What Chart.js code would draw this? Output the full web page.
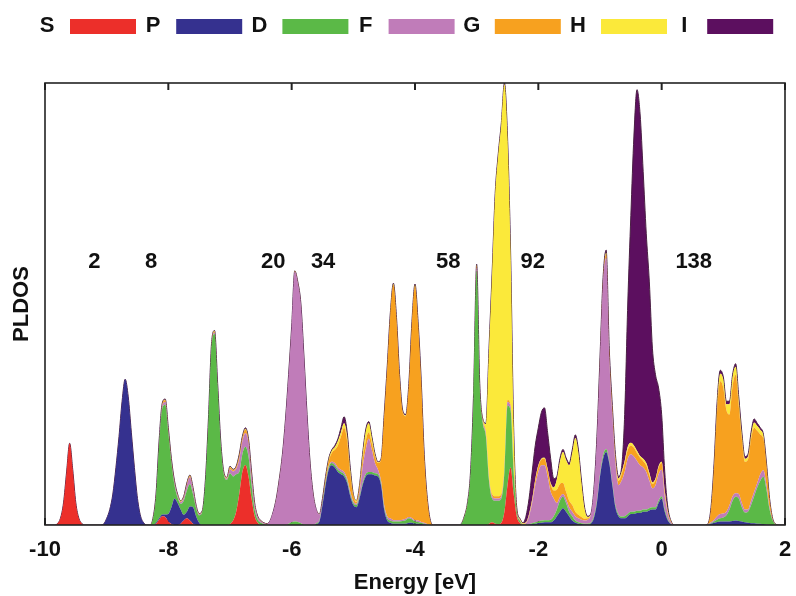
<!DOCTYPE html>
<html>
<head>
<meta charset="utf-8">
<script src="https://cdn.jsdelivr.net/npm/chart.js@4.4.1/dist/chart.umd.min.js"></script>
<style>
  html, body { margin: 0; padding: 0; background: #fff; }
  #wrap { width: 796px; height: 596px; }
</style>
</head>
<body>
<div id="wrap"><canvas id="dos" width="796" height="596"></canvas></div>
<script>
'use strict';

// Energy grid (eV), dense where the spectrum is non-zero
const energy = [
  -10, -9.85, -9.8, -9.75, -9.7, -9.65, -9.6, -9.55, -9.5, -9.45, -9.4, -9.35,
  -9.1, -9.05, -9, -8.95, -8.9, -8.85, -8.8, -8.75, -8.7, -8.65, -8.6, -8.55, -8.5, -8.45, -8.4, -8.35,
  -8.3, -8.25, -8.2, -8.15, -8.1, -8.05, -8, -7.95, -7.9, -7.85, -7.8, -7.75, -7.7, -7.65, -7.6, -7.55, -7.5, -7.45, -7.4, -7.35,
  -7.3, -7.25, -7.2, -7.15, -7.1, -7.05, -7, -6.95, -6.9, -6.85, -6.8, -6.75, -6.7, -6.65, -6.6, -6.55, -6.5, -6.45, -6.4,
  -6.35, -6.3, -6.25, -6.2, -6.15, -6.1, -6.05, -6, -5.95, -5.9, -5.85, -5.8, -5.75, -5.7, -5.65, -5.6,
  -5.55, -5.5, -5.45, -5.4, -5.35, -5.3, -5.25, -5.2, -5.15, -5.1, -5.05, -5, -4.95, -4.9, -4.85, -4.8, -4.75, -4.7, -4.65, -4.6, -4.55, -4.5,
  -4.45, -4.4, -4.35, -4.3, -4.25, -4.2, -4.15, -4.1, -4.05, -4, -3.95, -3.9, -3.85, -3.8, -3.75, -3.7,
  -3.3, -3.25, -3.2, -3.15, -3.1, -3.05, -3, -2.95, -2.9, -2.85, -2.8, -2.75, -2.7, -2.65, -2.6, -2.55, -2.5, -2.45, -2.4, -2.35, -2.3, -2.25,
  -2.2, -2.15, -2.1, -2.05, -2, -1.95, -1.9, -1.85, -1.8, -1.75, -1.7, -1.65, -1.6, -1.55, -1.5, -1.45, -1.4, -1.35, -1.3, -1.25,
  -1.2, -1.15, -1.1, -1.05, -1, -0.95, -0.9, -0.85, -0.8, -0.75, -0.7, -0.65, -0.6, -0.55, -0.5, -0.45, -0.4, -0.35, -0.3, -0.25,
  -0.2, -0.15, -0.1, -0.05, 0, 0.05, 0.1, 0.15, 0.2,
  0.7, 0.75, 0.8, 0.85, 0.9, 0.95, 1, 1.05, 1.1, 1.15, 1.2, 1.25, 1.3, 1.35, 1.4, 1.45, 1.5, 1.55, 1.6, 1.65, 1.7, 1.75, 1.8, 1.85, 1.9,
  2
];

// Partial DOS per angular momentum, same grid as energy (stacked S at bottom ... I on top)
const pldosS = [
  0, 0, 0.3, 1.5, 5, 12, 18.5, 12.5, 5, 1.5, 0.3, 0,
  0, 0, 0, 0, 0, 0, 0, 0, 0, 0, 0, 0, 0, 0, 0, 0,
  0, 0, 0.3, 1.2, 2, 1.8, 0.8, 0.2, 0, 0, 0.3, 1, 1.5, 1, 0.3, 0, 0, 0, 0, 0,
  0, 0, 0, 0, 0, 0, 0.2, 1, 3, 7, 12, 13.6, 11, 6, 2, 0.5, 0, 0, 0,
  0, 0, 0, 0, 0, 0, 0, 0, 0, 0, 0, 0, 0, 0, 0, 0,
  0, 0, 0, 0, 0, 0, 0, 0, 0, 0, 0, 0, 0, 0, 0, 0, 0, 0, 0, 0, 0, 0,
  0, 0, 0, 0, 0, 0, 0, 0, 0, 0, 0, 0, 0, 0, 0, 0,
  0, 0, 0, 0, 0, 0, 0, 0, 0, 0, 0.3, 0.6, 0.3, 0.2, 0.5, 3, 9, 13, 7, 2, 0.5, 0,
  0, 0, 0, 0, 0, 0, 0, 0, 0, 0, 0, 0, 0, 0, 0, 0, 0, 0, 0, 0,
  0, 0, 0, 0, 0, 0, 0, 0, 0, 0, 0, 0, 0, 0, 0, 0, 0, 0, 0, 0,
  0, 0, 0, 0, 0, 0, 0, 0, 0,
  0, 0, 0, 0, 0, 0, 0, 0, 0, 0, 0, 0, 0, 0, 0, 0, 0, 0, 0, 0, 0, 0, 0, 0, 0,
  0
];
const pldosP = [
  0, 0, 0, 0, 0, 0, 0, 0, 0, 0, 0, 0,
  0, 0.2, 1.5, 3.5, 7, 13, 20, 28, 33, 29, 21, 13, 6, 2, 0.5, 0,
  0, 0, 0.2, 0.3, 0.4, 0.6, 1.7, 3.8, 6, 5, 3.2, 1.3, 1.5, 3.2, 3.7, 2, 0.5, 0, 0, 0,
  0, 0, 0, 0, 0, 0, 0, 0, 0, 0, 0, 0, 0, 0, 0, 0, 0, 0, 0,
  0, 0, 0, 0, 0, 0, 0, 0, 0, 0, 0, 0, 0, 0, 0, 0.2,
  0.8, 4.5, 9, 12.5, 13.5, 13, 12, 11.5, 11, 9.5, 6.5, 4.5, 4, 6, 9, 11, 11.5, 11.5, 11.2, 11, 9, 3.5,
  1, 0.5, 0.3, 0.3, 0.3, 0.3, 0.3, 0.5, 0.5, 0.3, 0.3, 0.2, 0.1, 0, 0, 0,
  0, 0, 0, 0, 0, 0, 0, 0, 0, 0, 0, 0, 0, 0, 0, 0, 0, 0, 0, 0, 0, 0,
  0, 0.1, 0.2, 0.3, 0.4, 0.5, 0.6, 0.6, 0.6, 1, 2, 3, 3.8, 3, 2, 1, 0.5, 0.3, 0.2, 0.1,
  0.1, 0.3, 1.5, 5, 11, 15, 16.5, 14, 9, 4, 2, 1.5, 1.5, 2, 2.5, 2.5, 2.7, 2.7, 3, 3,
  3.3, 3.5, 3.5, 5, 6, 3, 1, 0.2, 0,
  0, 0.1, 0.3, 0.5, 0.7, 0.8, 0.8, 0.8, 0.8, 0.9, 1, 0.9, 0.8, 0.6, 0.5, 0.4, 0.4, 0.3, 0.3, 0.2, 0.1, 0, 0, 0, 0,
  0
];
const pldosD = [
  0, 0, 0, 0, 0, 0, 0, 0, 0, 0, 0, 0,
  0, 0, 0, 0, 0, 0, 0, 0, 0, 0, 0, 0, 0, 0, 0, 0,
  0, 1.3, 6, 16.7, 23.9, 24.8, 18.3, 10, 3, 1.2, 1.3, 3.2, 4.8, 5.1, 3, 1.8, 1.7, 3, 9.7, 23.5,
  40.3, 43.2, 31.3, 18.4, 11.4, 10.2, 11.5, 10, 8.5, 5, 4, 4.1, 4.5, 3, 1.5, 0.7, 0.5, 0.2, 0.05,
  0, 0, 0, 0, 0, 0, 0.3, 0.6, 0.8, 0.7, 0.4, 0.1, 0, 0, 0, 0.2,
  0.3, 0.5, 0.5, 0.5, 0.5, 0.5, 0.5, 0.5, 0.5, 0.5, 0.5, 0.5, 0.5, 0.5, 0.5, 0.5, 0.5, 0.5, 0.5, 0.5, 0.5, 0.5,
  0.5, 0.5, 0.5, 0.5, 0.5, 0.6, 0.8, 1, 0.8, 0.5, 0.4, 0.3, 0.2, 0.1, 0, 0,
  0, 0.25, 1.8, 4.7, 11.5, 29, 57.5, 31, 23, 20, 9.7, 5.4, 5.2, 5.3, 5.5, 9, 18, 13, 5, 1, 0.5, 0.1,
  0.1, 0.1, 0.2, 0.3, 0.4, 0.5, 0.5, 0.5, 0.6, 1, 1.5, 2.5, 2.6, 2, 1, 1, 0.5, 0.3, 0.2, 0.2,
  0.2, 0.2, 0.5, 0.5, 0.5, 0.8, 0.7, 0.5, 0.5, 0.5, 0.4, 0.4, 0.5, 0.5, 0.5, 0.5, 0.5, 0.5, 0.5, 0.5,
  0.5, 0.5, 0.5, 0.5, 0.5, 0.5, 0.3, 0.1, 0,
  0, 0.05, 0.1, 0.3, 0.5, 0.7, 0.9, 1.4, 2.7, 4.6, 5.4, 5.1, 3.2, 2.2, 2.5, 4.1, 6.1, 8.2, 9.7, 10.7, 7.9, 3.5, 1, 0.1, 0,
  0
];
const pldosF = [
  0, 0, 0, 0, 0, 0, 0, 0, 0, 0, 0, 0,
  0, 0, 0, 0, 0, 0, 0, 0, 0, 0, 0, 0, 0, 0, 0, 0,
  0, 0.1, 0.2, 0.4, 0.6, 0.6, 0.6, 0.5, 0.6, 0.5, 0.4, 0.6, 1.2, 1.5, 1.1, 0.5, 0.25, 0.1, 0.1, 0.2,
  0.3, 0.3, 0.3, 0.3, 0.3, 0.3, 0.9, 1.1, 1.2, 2.9, 2.9, 3.1, 3, 2, 1, 0.6, 0.35, 0.22, 0.2,
  1, 3, 5.8, 10.3, 15.8, 23.8, 33.5, 44.2, 56.5, 54.1, 49.4, 37.7, 24.8, 13.8, 6.8, 3.1,
  1.3, 0.5, 0.3, 0.3, 0.3, 0.5, 0.5, 0.5, 0.5, 0.5, 0.5, 0.3, 0.3, 1, 3.5, 5.5, 7.5, 5, 2.3, 1, 0.5, 0.5,
  0.5, 0.5, 0.3, 0.3, 0.3, 0.3, 0.3, 0.3, 0.3, 0.3, 0.3, 0.2, 0.2, 0.1, 0, 0,
  0, 0.02, 0.05, 0.1, 0.2, 0.5, 0.7, 0.5, 0.4, 0.5, 0.5, 0.5, 0.5, 0.5, 0.5, 0.5, 0.8, 0.8, 0.6, 0.3, 0.1, 0.1,
  0.3, 1.8, 4.6, 8.4, 11.2, 12.5, 12.4, 9.9, 6.3, 4, 1.5, 0.8, 0.6, 0.8, 1, 1, 1, 0.9, 0.8, 0.7,
  0.9, 1.8, 5.8, 14, 25.5, 39, 43.2, 23.5, 15.5, 9.5, 6.6, 8.1, 10, 12.5, 13, 12.5, 11.3, 10.3, 9.5, 8.5,
  6.2, 4.3, 5, 6, 6, 3, 1.2, 0.3, 0,
  0, 0.05, 0.2, 0.4, 0.8, 1, 0.9, 0.8, 1, 1, 0.8, 1, 1, 0.7, 0.5, 1, 1, 1, 1.5, 1.5, 1, 0.5, 0.2, 0.05, 0,
  0
];
const pldosG = [
  0, 0, 0, 0, 0, 0, 0, 0, 0, 0, 0, 0,
  0, 0, 0, 0, 0, 0, 0, 0, 0, 0, 0, 0, 0, 0, 0, 0,
  0, 0.05, 0.15, 0.2, 0.3, 0.4, 0.3, 0.3, 0.2, 0.15, 0.15, 0.2, 0.3, 0.3, 0.2, 0.1, 0.07, 0.05, 0.1, 0.15,
  0.2, 0.25, 0.2, 0.15, 0.15, 0.15, 0.4, 0.3, 0.4, 0.7, 0.7, 0.8, 0.6, 0.6, 0.3, 0.1, 0.07, 0.04, 0.03,
  0, 0, 0.1, 0.1, 0.1, 0.1, 0.1, 0.1, 0.1, 0.1, 0.1, 0.1, 0.1, 0.1, 0.1, 0,
  0.05, 0.3, 0.7, 1.1, 2, 3, 5, 7.5, 10, 8.5, 4, 1.3, 0.4, 1, 1.5, 2, 1.5, 1.5, 1.5, 1.5, 4.8, 20.1,
  33.6, 46.1, 53.2, 45.5, 32.5, 24.4, 23.2, 29.8, 44, 53, 44.6, 31.9, 15.1, 5.6, 0.9, 0,
  0, 0.02, 0.05, 0.1, 0.15, 0.3, 0.4, 0.3, 0.3, 0.5, 0.5, 0.5, 0.5, 0.5, 0.5, 0.5, 0.5, 0.5, 0.4, 0.3, 0.1, 0.1,
  0.1, 0.3, 0.5, 1, 1.3, 1.3, 1.5, 1.5, 1.7, 1.8, 3, 3, 2.5, 1.7, 1.5, 1.5, 1, 0.8, 0.6, 0.4,
  0.3, 0.1, 0.1, 0.2, 0.4, 0.5, 0.8, 1, 1, 1, 1, 1.5, 2, 2, 2, 2, 1.8, 1.7, 1.5, 1.5,
  1.3, 1, 1.2, 1.5, 1.5, 1, 0.5, 0.2, 0,
  0, 0.08, 3, 11.8, 24, 30, 28.4, 23, 20.5, 25, 26.8, 20, 14.5, 10.8, 11.3, 14, 14.5, 11.8, 9, 7.1, 4.5, 1.8, 0.25, 0.03, 0,
  0
];
const pldosH = [
  0, 0, 0, 0, 0, 0, 0, 0, 0, 0, 0, 0,
  0, 0, 0, 0, 0, 0, 0, 0, 0, 0, 0, 0, 0, 0, 0, 0,
  0, 0.03, 0.05, 0.1, 0.15, 0.15, 0.15, 0.1, 0.1, 0.1, 0.1, 0.1, 0.1, 0.1, 0.1, 0.05, 0.05, 0.03, 0.05, 0.1,
  0.1, 0.15, 0.1, 0.1, 0.1, 0.1, 0.2, 0.1, 0.1, 0.2, 0.2, 0.2, 0.2, 0.2, 0.1, 0.05, 0.04, 0.02, 0.01,
  0, 0, 0.05, 0.05, 0.05, 0.05, 0.05, 0.05, 0.05, 0.05, 0.05, 0.05, 0.05, 0.05, 0.05, 0,
  0.03, 0.1, 0.3, 0.4, 0.5, 0.6, 1, 1, 1, 1, 1, 0.4, 0.3, 0.5, 1.2, 2, 2, 1.2, 0.5, 0.2, 0.1, 0.2,
  0.2, 0.2, 0.2, 0.2, 0.2, 0.2, 0.2, 0.2, 0.2, 0.2, 0.2, 0.2, 0.2, 0.1, 0.05, 0,
  0, 0.01, 0.05, 0.05, 0.1, 0.1, 0.2, 0.1, 0.2, 1.8, 28.7, 49.7, 68.2, 77.2, 83.7, 86.7, 59.4, 34.4, 8.8, 0.3, 0.2, 0.1,
  0.1, 0.2, 0.3, 0.3, 0.2, 0.2, 0.2, 0.3, 0.3, 0.7, 2.3, 5, 7, 7.2, 8, 11.8, 16.7, 14, 7.6, 2.2,
  0.3, 0.05, 0.05, 0.1, 0.2, 0.3, 0.4, 0.4, 0.5, 0.5, 0.5, 0.5, 0.5, 0.7, 0.6, 0.5, 0.5, 0.4, 0.5, 0.5,
  0.5, 0.3, 0.3, 0.3, 0.3, 0.3, 0.2, 0.1, 0,
  0, 0.01, 0.2, 0.6, 1.2, 1.7, 1.8, 1.3, 2.3, 2, 1.8, 1.3, 0.9, 0.7, 0.7, 0.8, 1.2, 1.1, 1, 0.7, 0.3, 0.1, 0.03, 0.01, 0,
  0
];
const pldosI = [
  0, 0, 0, 0, 0, 0, 0, 0, 0, 0, 0, 0,
  0, 0, 0, 0, 0, 0, 0, 0, 0, 0, 0, 0, 0, 0, 0, 0,
  0, 0.02, 0.1, 0.1, 0.15, 0.15, 0.15, 0.1, 0.1, 0.05, 0.05, 0.1, 0.1, 0.1, 0.1, 0.05, 0.03, 0.02, 0.05, 0.05,
  0.1, 0.1, 0.1, 0.05, 0.05, 0.05, 0.1, 0.1, 0.1, 0.2, 0.2, 0.2, 0.2, 0.2, 0.1, 0.05, 0.04, 0.02, 0.01,
  0, 0, 0.05, 0.05, 0.05, 0.05, 0.05, 0.05, 0.05, 0.05, 0.05, 0.05, 0.05, 0.05, 0.05, 0,
  0.02, 0.1, 0.2, 0.2, 0.2, 0.4, 0.5, 1, 1.5, 1, 0.5, 0, 0, 0, 0.3, 0.5, 0.4, 0.3, 0.2, 0.1, 0.1, 0.2,
  0.2, 0.2, 0.2, 0.2, 0.2, 0.2, 0.2, 0.2, 0.2, 0.2, 0.2, 0.2, 0.2, 0.1, 0.05, 0,
  0, 0, 0.05, 0.05, 0.05, 0.1, 0.2, 0.1, 0.1, 0.2, 0.3, 0.3, 0.3, 0.3, 0.3, 0.3, 0.3, 0.3, 0.2, 0.1, 0.1, 0.1,
  1.4, 3.5, 6.2, 7.7, 8.5, 10.5, 11.3, 8.2, 5.5, 2, 0.7, 0.7, 0.6, 0.5, 0.5, 0.7, 0.7, 0.7, 0.6, 0.4,
  0.2, 0.05, 0.05, 0.2, 0.4, 0.4, 0.6, 0.6, 0.5, 0.5, 0.5, 1, 10.5, 32.3, 51.4, 70, 81.7, 77.4, 65, 52,
  43.2, 30.4, 23.5, 17.7, 10.7, 4.2, 0.8, 0.1, 0,
  0, 0.01, 0.2, 0.4, 0.8, 0.8, 0.7, 0.7, 0.7, 0.5, 0.7, 0.7, 0.6, 0.5, 0.5, 0.7, 0.8, 0.6, 0.5, 0.3, 0.2, 0.1, 0.02, 0.01, 0,
  0
];

const seriesNames = ['S', 'P', 'D', 'F', 'G', 'H', 'I'];
const seriesValues = [pldosS, pldosP, pldosD, pldosF, pldosG, pldosH, pldosI];
const seriesColors = ['#ec2f2a', '#35318f', '#5bb947', '#c07cb9', '#f7a11f', '#fbe93a', '#5c0f5f'];

const xTicks = [-10, -8, -6, -4, -2, 0, 2];
const xTickLabels = ['-10', '-8', '-6', '-4', '-2', '0', '2'];

// Magic-number annotations: text, energy position, height (PLDOS units)
const shellLabels = ['2', '8', '20', '34', '58', '92', '138'];
const shellEnergy = [-9.2, -8.28, -6.3, -5.49, -3.46, -2.09, 0.52];
const shellHeight = [59.5, 59.5, 59.5, 59.5, 59.5, 59.5, 59.5];

seriesValues.forEach((arr, i) => {
    if (arr.length !== energy.length) {
        throw new Error(`series ${seriesNames[i]} has ${arr.length} values, expected ${energy.length}`);
    }
});

const FONT = '"Liberation Sans", Arial, Helvetica, sans-serif';

const decor = {
    id: 'decor',
    beforeDatasetsDraw(chart) {
        const { ctx, chartArea: a, scales: { x } } = chart;
        ctx.save();
        ctx.strokeStyle = '#222';
        ctx.lineWidth = 2;
        xTicks.forEach(v => {
            const px = x.getPixelForValue(v);
            ctx.beginPath();
            ctx.moveTo(px, a.bottom);
            ctx.lineTo(px, a.bottom - 7);
            ctx.stroke();
        });
        ctx.restore();
    },
    afterDatasetsDraw(chart) {
        const { ctx, chartArea: a, scales: { x, y } } = chart;
        ctx.save();
        ctx.strokeStyle = '#222';
        ctx.lineWidth = 2;
        xTicks.forEach(v => {
            const px = x.getPixelForValue(v);
            ctx.beginPath();
            ctx.moveTo(px, a.top);
            ctx.lineTo(px, a.top + 7);
            ctx.stroke();
        });
        ctx.lineWidth = 1.6;
        ctx.strokeRect(a.left, a.top, a.right - a.left, a.bottom - a.top);

        ctx.fillStyle = '#111';
        ctx.font = 'bold 22px ' + FONT;
        ctx.textAlign = 'center';
        ctx.textBaseline = 'middle';
        shellLabels.forEach((t, i) => {
            ctx.fillText(t, x.getPixelForValue(shellEnergy[i]), y.getPixelForValue(shellHeight[i]));
        });
        ctx.restore();
    },
    afterDraw(chart) {
        // legend: label followed by a colour bar
        const { ctx } = chart;
        ctx.save();
        ctx.font = 'bold 22px ' + FONT;
        ctx.textAlign = 'center';
        ctx.textBaseline = 'middle';
        seriesNames.forEach((name, i) => {
            const cx = 47 + i * 106.2;
            ctx.fillStyle = '#111';
            ctx.fillText(name, cx, 26);
            ctx.fillStyle = seriesColors[i];
            ctx.fillRect(cx + 23, 19, 66, 15);
        });
        ctx.restore();
    }
};

new Chart(document.getElementById('dos'), {
    type: 'line',
    data: {
        datasets: seriesValues.map((vals, i) => ({
            label: seriesNames[i],
            data: energy.map((e, k) => ({ x: e, y: vals[k] })),
            backgroundColor: seriesColors[i],
            borderColor: i === seriesValues.length - 1 ? '#4a1f44' : 'rgba(0,0,0,0)',
            borderWidth: i === seriesValues.length - 1 ? 1 : 0,
            fill: i === 0 ? 'origin' : '-1',
            pointRadius: 0,
            cubicInterpolationMode: 'monotone'
        }))
    },
    options: {
        responsive: false,
        animation: false,
        devicePixelRatio: 1,
        layout: { padding: { left: 0, right: 11, top: 83, bottom: 0 } },
        plugins: {
            legend: { display: false },
            tooltip: { enabled: false }
        },
        scales: {
            x: {
                type: 'linear',
                min: -10,
                max: 2,
                afterBuildTicks: s => { s.ticks = xTicks.map(v => ({ value: v })); },
                afterFit: s => {
                    s.height = 71;
                    s.paddingLeft = 0;
                    s.paddingRight = 0;
                },
                grid: { display: false, drawTicks: false },
                border: { display: false },
                ticks: {
                    padding: 12,
                    color: '#111',
                    font: { family: FONT, size: 22, weight: 'bold' },
                    maxRotation: 0,
                    callback: (v, i) => xTickLabels[i]
                },
                title: {
                    display: true,
                    text: 'Energy [eV]',
                    color: '#111',
                    font: { family: FONT, size: 22, weight: 'bold' },
                    padding: { top: 2, bottom: 0 }
                }
            },
            y: {
                stacked: true,
                min: 0,
                max: 100,
                afterFit: s => { s.width = 45; },
                grid: { display: false, drawTicks: false },
                border: { display: false },
                ticks: { display: false },
                title: {
                    display: true,
                    text: 'PLDOS',
                    color: '#111',
                    font: { family: FONT, size: 22, weight: 'bold' },
                    padding: { top: 9, bottom: 0 }
                }
            }
        }
    },
    plugins: [decor]
});
</script>
</body>
</html>
